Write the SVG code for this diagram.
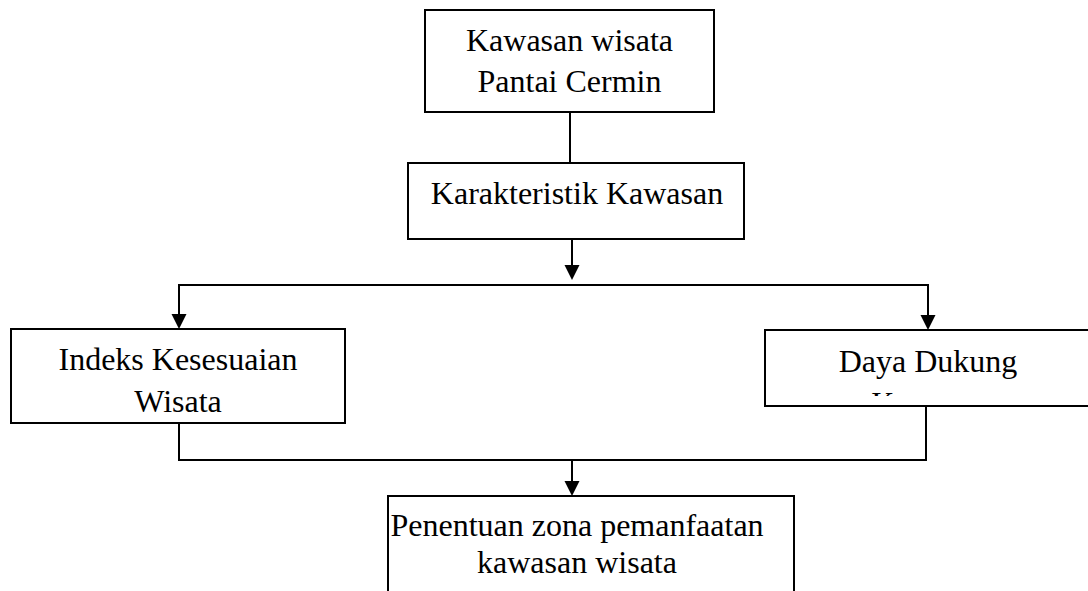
<svg xmlns="http://www.w3.org/2000/svg" width="1088" height="591" viewBox="0 0 1088 591">
<style>
.box{fill:#fff;stroke:#000;stroke-width:2}
.t{font-family:"Liberation Serif","Times New Roman",serif;font-size:32px;fill:#000;text-anchor:middle}
.c{fill:none;stroke:#000;stroke-width:2}
</style>
<defs>
<clipPath id="clipR"><rect x="765" y="330" width="323" height="66"/></clipPath>
</defs>
<rect width="1088" height="591" fill="#fff"/>
<g id="connectors">
<line class="c" x1="570" y1="112" x2="570" y2="163"/>
<path d="M572,239 L572,265" class="c"/>
<path d="M564.5,265 L579.5,265 L572,280 Z" fill="#000"/>
<line class="c" x1="178" y1="285" x2="929" y2="285"/>
<path d="M179,285 L179,314" class="c"/>
<path d="M171.5,314 L186.5,314 L179,329 Z" fill="#000"/>
<path d="M928,285 L928,315" class="c"/>
<path d="M920.5,315 L935.5,315 L928,330 Z" fill="#000"/>
<line class="c" x1="179" y1="423" x2="179" y2="459"/>
<line class="c" x1="926" y1="406" x2="926" y2="459"/>
<line class="c" x1="178" y1="460" x2="927" y2="460"/>
<path d="M572,460 L572,481" class="c"/>
<path d="M564.5,481 L579.5,481 L572,496 Z" fill="#000"/>
</g>
<g id="node-top">
<rect class="box" x="425" y="10" width="289" height="102"/>
<text class="t" x="569.5" y="51">Kawasan wisata</text>
<text class="t" x="569.5" y="92">Pantai Cermin</text>
</g>
<g id="node-karakteristik">
<rect class="box" x="408" y="163" width="336" height="76"/>
<text class="t" x="577" y="204">Karakteristik Kawasan</text>
</g>
<g id="node-iks">
<rect class="box" x="11" y="329" width="334" height="94"/>
<text class="t" x="178" y="370">Indeks Kesesuaian</text>
<text class="t" x="178" y="412">Wisata</text>
</g>
<g id="node-ddk">
<rect class="box" x="765" y="330" width="330" height="76"/>
<g clip-path="url(#clipR)">
<text class="t" x="928" y="372">Daya Dukung</text>
<text class="t" x="930" y="414">Kawasan</text>
</g>
</g>
<g id="node-zona">
<rect class="box" x="388" y="496" width="406" height="110"/>
<text class="t" x="577" y="536">Penentuan zona pemanfaatan</text>
<text class="t" x="577" y="573">kawasan wisata</text>
</g>
</svg>
